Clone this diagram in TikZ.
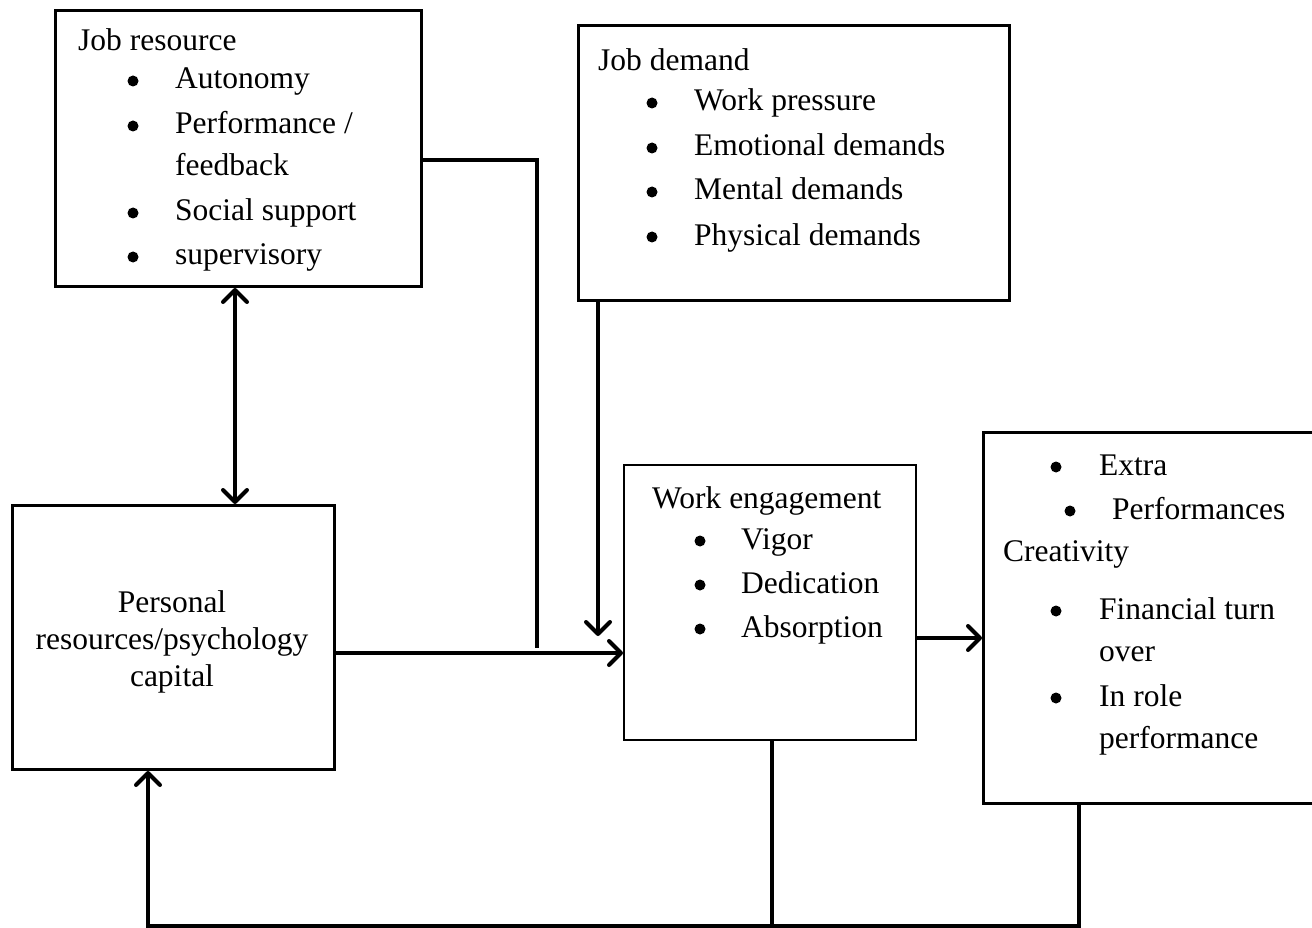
\documentclass[tikz,border=0pt]{standalone}
\usepackage{fontspec}
\setmainfont{Liberation Serif}
\usetikzlibrary{arrows.meta}
\begin{document}
\begin{tikzpicture}[x=1pt,y=-1pt,
  box/.style={draw,line width=3pt,rectangle,inner sep=0pt,anchor=north west},
  thinbox/.style={box,line width=2pt},
  txt/.style={anchor=base west,inner sep=0pt,font=\fontsize{31.5}{36}\selectfont},
  ctxt/.style={anchor=base,inner sep=0pt,font=\fontsize{31.5}{36}\selectfont},
  blt/.style={circle,fill,inner sep=0pt,minimum size=11pt},
  conn/.style={line width=3.3pt},
  tip/.style={Straight Barb[length=12pt,width=24pt,round,line width=4pt]},
  arr/.style={conn,-{Straight Barb[length=12pt,width=24pt,round,line width=4pt]}},
  darr/.style={conn,{Straight Barb[length=12pt,width=24pt,round,line width=4pt]}-{Straight Barb[length=12pt,width=24pt,round,line width=4pt]}}
]
\useasboundingbox (0,0) rectangle (1312,928);
% boxes
\node[box,minimum width=366pt,minimum height=276pt] (jr) at (54,9) {};
\node[box,minimum width=431pt,minimum height=275pt] (jd) at (577,24) {};
\node[box,minimum width=322pt,minimum height=264pt] (pr) at (11,504) {};
\node[thinbox,minimum width=292pt,minimum height=275pt] (we) at (623,464) {};
\node[box,minimum width=340pt,minimum height=371pt] (ro) at (982,431) {};
% Job resource text
\node[txt] (jr0) at (78,51) {Job resource};
\node[blt] (jrb1) at (133,81) {};
\node[txt] (jr1) at (175,89) {Autonomy};
\node[blt] (jrb2) at (133,126) {};
\node[txt] (jr2) at (175,134) {Performance /};
\node[txt] (jr3) at (175,176) {feedback};
\node[blt] (jrb4) at (133,213) {};
\node[txt] (jr4) at (175,221) {Social support};
\node[blt] (jrb5) at (133,257) {};
\node[txt] (jr5) at (175,265) {supervisory};
% Job demand text
\node[txt] (jd0) at (598,71) {Job demand};
\node[blt] (jdb1) at (652,103) {};
\node[txt] (jd1) at (694,111) {Work pressure};
\node[blt] (jdb2) at (652,148) {};
\node[txt] (jd2) at (694,156) {Emotional demands};
\node[blt] (jdb3) at (652,192) {};
\node[txt] (jd3) at (694,200) {Mental demands};
\node[blt] (jdb4) at (652,237) {};
\node[txt] (jd4) at (694,245) {Physical demands};
% Personal resources text
\node[ctxt] (pr1) at (172,612) {Personal};
\node[ctxt] (pr2) at (172,649) {resources/psychology};
\node[ctxt] (pr3) at (172,686) {capital};
% Work engagement text
\node[txt] (we0) at (652,508) {Work engagement};
\node[blt] (web1) at (700,541) {};
\node[txt] (we1) at (741,549) {Vigor};
\node[blt] (web2) at (700,585) {};
\node[txt] (we2) at (741,593) {Dedication};
\node[blt] (web3) at (700,629) {};
\node[txt] (we3) at (741,637) {Absorption};
% Outcomes text
\node[blt] (rob1) at (1056,467) {};
\node[txt] (ro1) at (1099,475) {Extra};
\node[blt] (rob2) at (1070,511) {};
\node[txt] (ro2) at (1112,519) {Performances};
\node[txt] (ro3) at (1003,561) {Creativity};
\node[blt] (rob4) at (1056,611) {};
\node[txt] (ro4) at (1099,619) {Financial turn};
\node[txt] (ro5) at (1099,661) {over};
\node[blt] (rob6) at (1056,698) {};
\node[txt] (ro6) at (1099,706) {In role};
\node[txt] (ro7) at (1099,748) {performance};
% connector coordinates
\coordinate (c1) at (537,160);
\coordinate (c2) at (537,648);
\coordinate (p1) at (0,653);
\coordinate (d1) at (598,636);
\coordinate (x1) at (235,0);
\coordinate (w1) at (0,638);
\coordinate (f1) at (772,926);
\coordinate (f2) at (1079,926);
\coordinate (f3) at (148,926);
% connectors
\draw[conn] (jr.east |- c1) -- (c1) -- (c2);
\draw[arr] (pr.east |- p1) -- (we.west |- p1);
\draw[arr] (jd.south -| d1) -- (d1);
\draw[darr] (jr.south -| x1) -- (pr.north -| x1);
\draw[arr] (we.east |- w1) -- (ro.west |- w1);
\draw[conn] (we.south -| f1) -- (f1);
\draw[arr] (ro.south -| f2) -- (f2) -- (f3) -- (pr.south -| f3);
\end{tikzpicture}
\end{document}
